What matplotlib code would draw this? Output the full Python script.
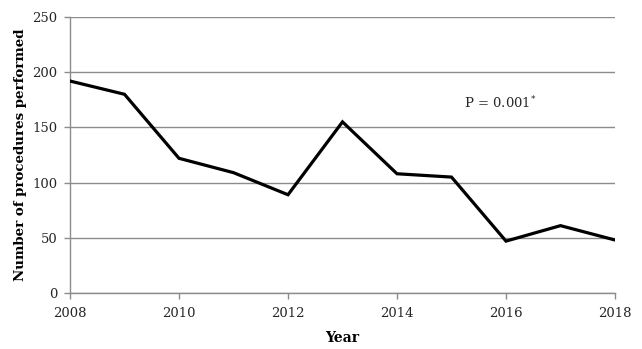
import matplotlib.pyplot as plt
import matplotlib.ticker as ticker

plt.rcParams['font.family'] = ['DejaVu Serif']

# data
years = [2008, 2009, 2010, 2011, 2012, 2013, 2014, 2015, 2016, 2017, 2018]
procedures = [192, 180, 122, 109, 89, 155, 108, 105, 47, 61, 48]
xticks = [2008, 2010, 2012, 2014, 2016, 2018]
yticks = [0, 50, 100, 150, 200, 250]

fig = plt.figure(figsize=(6.42, 3.49), dpi=100)
ax = fig.add_axes([70 / 642, 1 - 293 / 349, 545 / 642, 276 / 349])

ax.plot(years, procedures, color='black', linewidth=2.3, solid_joinstyle='miter', zorder=3)

ax.set_xlim(2008, 2018)
ax.set_ylim(0, 250)
ax.set_xticks(xticks)
ax.set_yticks(yticks)
ax.yaxis.grid(True, color='#8c8c8c', linewidth=1)
ax.set_axisbelow(True)

for s in ['top', 'right']:
    ax.spines[s].set_visible(False)
for s in ['left', 'bottom']:
    ax.spines[s].set_color('#8c8c8c')
    ax.spines[s].set_linewidth(1)

ax.tick_params(axis='both', colors='#8c8c8c', labelcolor='#262626', labelsize=9.5, length=4, width=1)
ax.tick_params(axis='x', pad=6)
ax.tick_params(axis='y', pad=5)

ax.set_xlabel('Year', fontweight='bold', fontsize=10, labelpad=8)
ax.set_ylabel('Number of procedures performed', fontweight='bold', fontsize=9.6, labelpad=4)

ax.text(2015.9, 172, r'P = 0.001$^{*}$', fontsize=9.5, ha='center', va='center', color='#262626')

plt.savefig('out.png', dpi=100)
